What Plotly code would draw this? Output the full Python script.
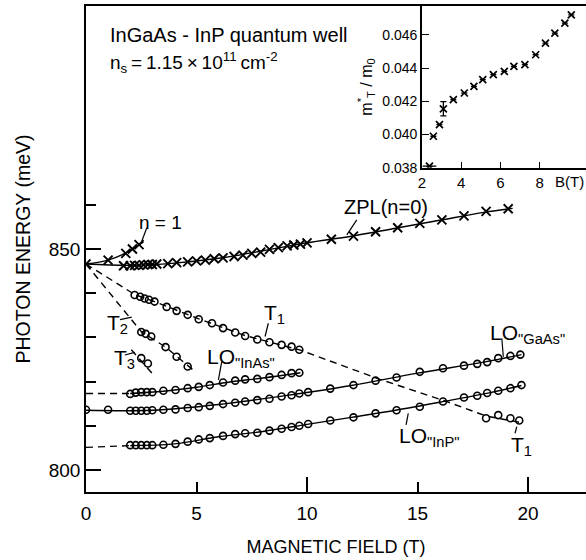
import plotly.graph_objects as go

# ---------------- data ----------------
# ZPL (n = 0) crosses
zpl_B = [0, 1.7, 2.0, 2.2, 2.4, 2.6, 2.8, 3.0, 3.2, 3.7, 4.1, 4.6, 5.0, 5.4, 5.8, 6.2, 6.7,
         7.1, 7.5, 7.9, 8.3, 8.7, 9.1, 9.4, 9.7, 10.0, 11.1, 12.1, 13.1, 14.1, 15.1, 16.1,
         17.1, 18.1, 19.1]
zpl_E = [846.6, 846.2, 846.2, 846.3, 846.3, 846.4, 846.5, 846.5, 846.6, 846.7, 846.9, 847.1,
         847.3, 847.5, 847.8, 848.0, 848.3, 848.6, 849.0, 849.3, 849.9, 850.3, 850.7, 850.9,
         851.1, 851.4, 852.2, 852.9, 853.9, 854.8, 855.8, 856.6, 857.5, 858.5, 859.1]
# n = 1 crosses
n1_B = [1.0, 1.8, 2.1, 2.4]
n1_E = [847.5, 849.0, 850.0, 851.0]

# T1, T2, T3 circles
t1_B = [2.2, 2.45, 2.65, 2.85, 3.1, 3.65, 4.1, 4.6, 5.1, 5.7, 6.2, 6.75, 7.2, 7.75, 8.3,
        8.85, 9.3, 9.65, 18.1, 18.65, 19.2, 19.6]
t1_E = [839.6, 839.2, 838.8, 838.5, 838.1, 836.9, 836.0, 835.1, 834.1, 833.2, 832.1, 831.1,
        830.3, 829.5, 828.9, 828.3, 827.9, 827.2, 811.7, 812.4, 811.7, 811.2]
t2_B = [2.5, 2.7, 2.95, 3.6, 4.1, 4.6]
t2_E = [831.2, 830.8, 830.2, 827.8, 825.6, 823.4]
t3_B = [2.5, 2.8]
t3_E = [825.3, 824.1]

# LO phonon replicas (circles)
inas_B = [2.0, 2.25, 2.5, 2.75, 3.0, 3.5, 4.05, 4.6, 5.1, 5.6, 6.2, 6.75, 7.2, 7.75, 8.3,
          8.85, 9.3, 9.65]
inas_E = [817.2, 817.5, 817.6, 817.6, 817.6, 817.9, 818.1, 818.5, 818.8, 819.2, 819.8,
          820.2, 820.5, 820.6, 821.0, 821.5, 821.9, 822.0]
gaas_B = [0, 1.0, 2.0, 2.25, 2.5, 2.75, 3.0, 3.5, 4.05, 4.6, 5.1, 5.6, 6.2, 6.75, 7.2, 7.75,
          8.3, 8.85, 9.3, 9.65, 10.05, 11.05, 12.1, 13.1, 14.05, 15.1, 16.15, 17.1, 17.7,
          18.15, 18.65, 19.2, 19.65]
gaas_E = [813.6, 813.6, 813.4, 813.4, 813.4, 813.4, 813.5, 813.6, 813.7, 814.0, 814.2,
          814.5, 814.9, 815.2, 815.5, 815.8, 816.1, 816.6, 816.9, 817.3, 817.6, 818.4,
          819.2, 820.2, 820.9, 822.2, 823.0, 823.6, 824.0, 824.4, 825.3, 825.8, 826.1]
inp_B = [2.0, 2.25, 2.5, 2.75, 3.0, 3.5, 4.05, 4.6, 5.1, 5.6, 6.2, 6.75, 7.2, 7.75, 8.3,
         8.85, 9.3, 9.65, 10.05, 11.05, 12.1, 13.1, 14.05, 15.1, 16.15, 17.1, 17.7, 18.15,
         18.65, 19.2, 19.7]
inp_E = [805.6, 805.6, 805.6, 805.6, 805.6, 805.7, 805.9, 806.4, 806.9, 807.2, 807.7,
         808.1, 808.3, 808.4, 808.9, 809.3, 809.7, 810.0, 810.4, 811.2, 811.9, 812.8,
         813.5, 814.3, 815.5, 816.4, 816.8, 817.4, 817.9, 818.5, 819.2]

# fitted / guide curves
zpl_fit_B = [0, 2, 4, 6, 8, 10, 12, 14, 16, 18, 19.3]
zpl_fit_E = [846.6, 846.3, 846.8, 847.9, 849.6, 851.4, 852.9, 854.7, 856.5, 858.3, 859.2]
n1_fit_B = [0, 1, 1.8, 2.6]
n1_fit_E = [846.6, 847.5, 849.1, 851.6]
t1_fit_B = [0, 2.2, 3.1, 5.1, 7.2, 9.7, 13.3, 16.3, 18.1, 19.8]
t1_fit_E = [846.6, 839.7, 838.1, 834.2, 830.4, 827.1, 820.5, 815.5, 812.2, 810.6]
t2_fit_B = [0, 2.5, 3.6, 4.9]
t2_fit_E = [846.6, 831.3, 827.8, 822.4]
t3_fit_B = [2.05, 3.0]
t3_fit_E = [827.2, 821.8]
inas_dash_B = [0, 2.0]
inas_dash_E = [817.3, 817.3]
inas_fit_B = [2.0, 3.5, 5.0, 6.5, 8.0, 9.7]
inas_fit_E = [817.3, 817.8, 818.7, 819.9, 820.8, 822.0]
gaas_fit_B = [0, 3, 6, 9, 12, 15, 18, 19.7]
gaas_fit_E = [813.5, 813.5, 814.8, 816.8, 819.1, 821.9, 824.4, 826.1]
inp_dash_B = [0, 2.0]
inp_dash_E = [805.1, 805.5]
inp_fit_B = [2.0, 4, 6, 8, 10, 12, 14, 16, 18, 19.7]
inp_fit_E = [805.5, 805.9, 807.5, 808.7, 810.3, 811.9, 813.5, 815.3, 817.2, 819.1]

# inset: effective mass vs field
mass_B = [2.38, 2.58, 2.89, 3.09, 3.6, 4.16, 4.65, 5.1, 5.64, 6.2, 6.69, 7.25, 7.8, 8.3,
          8.78, 9.29, 9.62]
mass_m = [0.0381, 0.0399, 0.0406, 0.04155, 0.0421, 0.0425, 0.0429, 0.0433, 0.0436, 0.0438,
          0.0441, 0.0442, 0.0448, 0.0455, 0.0461, 0.0467, 0.0472]
mass_err = [0, 0, 0, 0.00043, 0, 0, 0, 0, 0, 0, 0, 0, 0, 0, 0, 0, 0]
mass_errB = [0.35, 0, 0, 0, 0, 0, 0, 0, 0, 0, 0, 0, 0, 0, 0, 0, 0]

FONT = "Liberation Sans, Arial, sans-serif"
K = "black"

fig = go.Figure()


def curve(x, y, dash=None, shape="spline"):
    fig.add_trace(go.Scatter(x=x, y=y, mode="lines", showlegend=False, hoverinfo="skip",
                             line=dict(color=K, width=1.4, dash=dash, shape=shape)))


def crosses(x, y):
    fig.add_trace(go.Scatter(x=x, y=y, mode="markers", showlegend=False,
                             marker=dict(symbol="x-thin-open", size=9, color=K,
                                         line=dict(color=K, width=1.9))))


def circles(x, y):
    fig.add_trace(go.Scatter(x=x, y=y, mode="markers", showlegend=False,
                             marker=dict(symbol="circle-open", size=7, color=K,
                                         line=dict(color=K, width=1.6))))


DASH = "7px,5px"
curve(zpl_fit_B, zpl_fit_E)
curve(n1_fit_B, n1_fit_E)
curve(t1_fit_B, t1_fit_E, DASH, "linear")
curve(t2_fit_B, t2_fit_E, DASH, "linear")
curve(t3_fit_B, t3_fit_E, DASH, "linear")
curve(inas_dash_B, inas_dash_E, DASH, "linear")
curve(inas_fit_B, inas_fit_E)
curve(gaas_fit_B, gaas_fit_E)
curve(inp_dash_B, inp_dash_E, DASH, "linear")
curve(inp_fit_B, inp_fit_E)

crosses(zpl_B, zpl_E)
crosses(n1_B, n1_E)
for bx, ey in [(t1_B, t1_E), (t2_B, t2_E), (t3_B, t3_E), (inas_B, inas_E),
               (gaas_B, gaas_E), (inp_B, inp_E)]:
    circles(bx, ey)

# inset
fig.add_trace(go.Scatter(
    x=mass_B, y=mass_m, mode="markers", showlegend=False, xaxis="x2", yaxis="y2",
    marker=dict(symbol="x-thin-open", size=7, color=K, line=dict(color=K, width=1.7)),
    error_y=dict(type="data", array=mass_err, color=K, thickness=1.3, width=3),
    error_x=dict(type="data", array=mass_errB, color=K, thickness=1.3, width=0)))

# invisible trace anchoring the long-tick overlay axis
fig.add_trace(go.Scatter(x=[None], y=[None], xaxis="x3", yaxis="y", showlegend=False))

ax_common = dict(showline=True, linecolor=K, linewidth=1.6, showgrid=False, zeroline=False,
                 ticks="inside", tickcolor=K, tickwidth=1.5)

fig.update_layout(
    width=586, height=560, margin=dict(l=86, r=0, t=6, b=68),
    paper_bgcolor="white", plot_bgcolor="white",
    font=dict(family=FONT, color=K),
    xaxis=dict(**ax_common, range=[0, 22.62], mirror=True, tickvals=[0, 5, 10, 15, 20],
               ticklen=10, tickfont=dict(size=19), ticklabelstandoff=3,
               title=dict(text="MAGNETIC FIELD (T)", font=dict(size=18), standoff=18)),
    xaxis3=dict(overlaying="x", anchor="y", range=[0, 22.62], showline=False, showgrid=False,
                zeroline=False, ticks="inside", tickvals=[10, 20], ticklen=15, tickwidth=1.5,
                tickcolor=K, showticklabels=False),
    yaxis=dict(**ax_common, range=[795, 905], tickvals=[800, 850], ticklen=15,
               tickfont=dict(size=19),
               minor=dict(tickvals=[810, 820, 830, 840, 860], ticklen=10, ticks="inside",
                          tickwidth=1.5, tickcolor=K),
               title=dict(text="PHOTON ENERGY (meV)", font=dict(size=19.5), standoff=13)),
    xaxis2=dict(**{**ax_common, "tickwidth": 1.3}, domain=[0.672, 1.0], anchor="y2",
                range=[2, 10.37], tickvals=[2, 4, 6, 8], ticklen=6, tickfont=dict(size=15)),
    yaxis2=dict(**{**ax_common, "tickwidth": 1.3}, domain=[0.667, 1.0], anchor="x2",
                range=[0.038, 0.04773], tickvals=[0.038, 0.040, 0.042, 0.044, 0.046],
                tickformat=".3f", ticklen=7, tickfont=dict(size=14),
                title=dict(text="m<sup>*</sup><sub>T</sub> / m<sub>0</sub>",
                           font=dict(size=16), standoff=6)),
)

T = "\u2009"
ann = [
    dict(x=1.0, y=898.4, text="InGaAs - InP quantum well", size=20, xanchor="left"),
    dict(x=1.0, y=892.1,
         text=f"n<sub>s</sub>{T}={T}1.15{T}×{T}10<sup>11</sup>{T}cm<sup>-2</sup>",
         size=19, xanchor="left"),
    dict(x=3.35, y=856.1, text="n = 1", size=19, xanchor="center"),
    dict(x=13.58, y=859.6, text="ZPL(n=0)", size=20, xanchor="center"),
    dict(x=7.96, y=835.3, text="T<sub>1</sub>", size=21, xanchor="left"),
    dict(x=0.86, y=833.1, text="T<sub>2</sub>", size=21, xanchor="left"),
    dict(x=1.18, y=825.1, text="T<sub>3</sub>", size=21, xanchor="left"),
    dict(x=5.38, y=825.4, text="LO<sub>\"InAs\"</sub>", size=21, xanchor="left"),
    dict(x=18.19, y=830.8, text="LO<sub>\"GaAs\"</sub>", size=21, xanchor="left"),
    dict(x=14.07, y=807.5, text="LO<sub>\"InP\"</sub>", size=21, xanchor="left"),
    dict(x=19.14, y=805.5, text="T<sub>1</sub>", size=21, xanchor="left"),
]
for a in ann:
    fig.add_annotation(x=a["x"], y=a["y"], xref="x", yref="y", text=a["text"],
                       showarrow=False, xanchor=a["xanchor"], yanchor="middle",
                       font=dict(size=a["size"], family=FONT, color=K))
fig.add_annotation(x=9.55, y=0.038, xref="x2", yref="y2", text="B(T)", showarrow=False,
                   xanchor="center", yanchor="top", yshift=-3,
                   font=dict(size=15, family=FONT, color=K))

leaders = [((2.75, 854.8), (2.52, 851.7)), ((12.25, 856.6), (11.8, 853.2)),
           ((8.25, 833.2), (8.1, 830.2)), ((1.54, 834.0), (2.07, 834.6)),
           ((1.76, 826.0), (2.2, 826.6)), ((6.14, 824.5), (5.99, 820.4)),
           ((18.81, 829.8), (18.88, 825.6)), ((14.58, 812.8), (14.48, 810.2)),
           ((19.49, 809.8), (19.41, 808.3))]
for (x0, y0), (x1, y1) in leaders:
    fig.add_shape(type="line", xref="x", yref="y", x0=x0, y0=y0, x1=x1, y1=y1,
                  line=dict(color=K, width=1.2))

fig.write_html("out.html")
